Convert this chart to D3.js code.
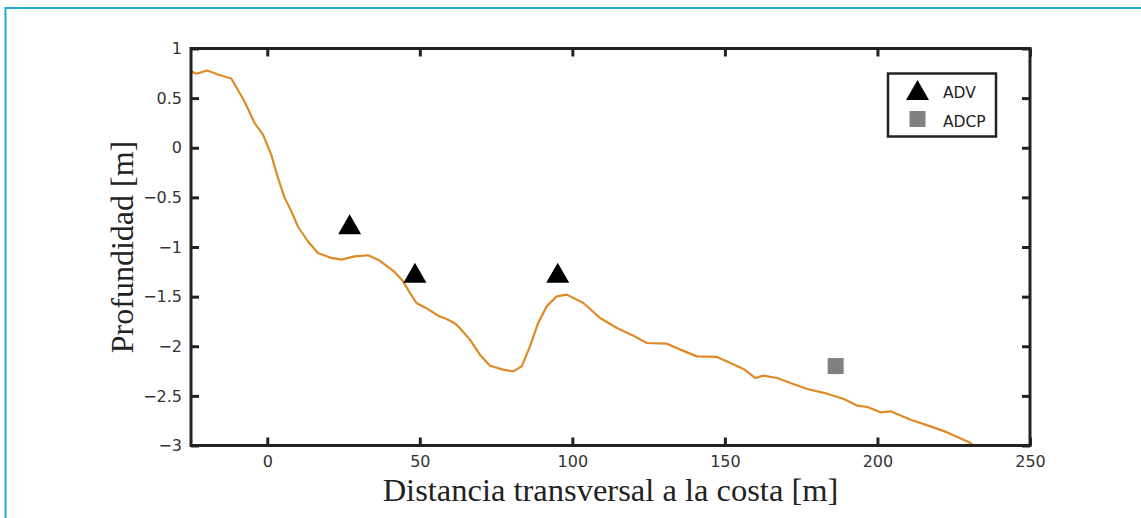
<!DOCTYPE html>
<html>
<head>
<meta charset="utf-8">
<script src="https://cdn.jsdelivr.net/npm/d3@7"></script>
<style>
  html, body { margin: 0; padding: 0; background: #fff; }
  svg { display: block; }
</style>
</head>
<body>
<svg id="chart" width="1141" height="518"></svg>
<script>
// Cross-shore bathymetric profile
const distance = [-25, -23.3, -19.7, -16.2, -11.8, -7.5, -4.2, -1.4, 1.3, 3.5, 5.7, 7.9, 10.0, 13.3, 16.6,
  21.0, 24.3, 28.7, 33.0, 36.5, 41.5, 44.5, 46.5, 48.9, 52.0, 56.3, 58.8, 61.5, 63.1, 66.4, 69.7, 73.0,
  77.3, 80.6, 83.4, 86.1, 88.8, 91.6, 94.9, 98.2, 103.6, 109.1, 114.6, 120.0, 124.4, 131.0, 135.4, 140.8,
  147.4, 151.8, 156.1, 160.0, 162.7, 167.1, 171.5, 177.0, 183.5, 189.0, 193.4, 196.7, 201.0, 204.3,
  210.9, 217.4, 222.9, 229.5, 231.6];
const depth = [0.771, 0.745, 0.778, 0.738, 0.698, 0.469, 0.251, 0.133, -0.069, -0.304, -0.505, -0.640,
  -0.791, -0.942, -1.06, -1.11, -1.127, -1.094, -1.083, -1.13, -1.245, -1.346, -1.45, -1.564, -1.614,
  -1.698, -1.725, -1.77, -1.816, -1.933, -2.085, -2.196, -2.236, -2.253, -2.203, -2.001, -1.765, -1.598,
  -1.497, -1.480, -1.564, -1.715, -1.816, -1.893, -1.967, -1.974, -2.034, -2.102, -2.108, -2.169, -2.229,
  -2.320, -2.296, -2.320, -2.370, -2.431, -2.478, -2.531, -2.599, -2.612, -2.666, -2.656, -2.740, -2.807,
  -2.868, -2.959, -3.0];

// Instrument positions
const advX = [27, 48.4, 95.2];
const advY = [-0.77, -1.26, -1.26];
const adcpX = [186.3];
const adcpY = [-2.2];

const xTicks = [0, 50, 100, 150, 200, 250];
const yTicks = [1, 0.5, 0, -0.5, -1, -1.5, -2, -2.5, -3];

const svg = d3.select("#chart");

// page frame
svg.append("line").attr("x1", 5.5).attr("x2", 1141).attr("y1", 8).attr("y2", 8)
  .attr("stroke", "#22a8d8").attr("stroke-width", 2);
svg.append("line").attr("x1", 5.5).attr("x2", 5.5).attr("y1", 7).attr("y2", 518)
  .attr("stroke", "#22a8d8").attr("stroke-width", 2);

const L = 191, T = 48.5, R = 1030, B = 445.5;
const x = d3.scaleLinear().domain([-25, 250]).range([L, R]);
const y = d3.scaleLinear().domain([-3, 1]).range([B, T]);

const fmt = v => (v < 0 ? "\u2212" : "") + Math.abs(v);
const axisColor = "#222";

// axes with inward ticks, mirrored on top and right
function styleAxis(g) {
  g.select(".domain").remove();
  g.selectAll(".tick line").attr("stroke", axisColor).attr("stroke-width", 3);
  g.selectAll(".tick text").attr("fill", "#333")
    .style("font-family", "'DejaVu Sans', sans-serif").style("font-size", "16px");
}
svg.append("g").attr("transform", `translate(0,${B})`)
  .call(d3.axisBottom(x).tickValues(xTicks).tickFormat(fmt).tickSizeInner(-8).tickPadding(10))
  .call(styleAxis);
svg.append("g").attr("transform", `translate(0,${T})`)
  .call(d3.axisTop(x).tickValues(xTicks).tickFormat("").tickSizeInner(-8))
  .call(styleAxis);
svg.append("g").attr("transform", `translate(${L},0)`)
  .call(d3.axisLeft(y).tickValues(yTicks).tickFormat(fmt).tickSizeInner(-8).tickPadding(9))
  .call(styleAxis);
svg.append("g").attr("transform", `translate(${R},0)`)
  .call(d3.axisRight(y).tickValues(yTicks).tickFormat("").tickSizeInner(-8))
  .call(styleAxis);

// profile line
const profile = distance.map((d, i) => [d, depth[i]]);
svg.append("path").datum(profile)
  .attr("fill", "none").attr("stroke", "#de8a26").attr("stroke-width", 2.2)
  .attr("stroke-linejoin", "round")
  .attr("d", d3.line().x(d => x(d[0])).y(d => y(d[1])));

// markers
const triangle = "M0,-10L11.5,10L-11.5,10Z";
svg.append("g").selectAll("path").data(advX.map((d, i) => [d, advY[i]])).join("path")
  .attr("d", triangle)
  .attr("transform", d => `translate(${x(d[0])},${y(d[1])})`)
  .attr("fill", "#000");
svg.append("g").selectAll("rect").data(adcpX.map((d, i) => [d, adcpY[i]])).join("rect")
  .attr("x", d => x(d[0]) - 8).attr("y", d => y(d[1]) - 8)
  .attr("width", 16).attr("height", 16).attr("fill", "#808080");

// plot box
svg.append("rect").attr("x", L).attr("y", T).attr("width", R - L).attr("height", B - T)
  .attr("fill", "none").attr("stroke", axisColor).attr("stroke-width", 3);

// legend
const lg = svg.append("g");
lg.append("rect").attr("x", 888).attr("y", 73.5).attr("width", 108).attr("height", 63)
  .attr("fill", "#fff").attr("stroke", axisColor).attr("stroke-width", 2.5);
lg.append("path").attr("d", triangle).attr("transform", "translate(917.5,90)").attr("fill", "#000");
lg.append("rect").attr("x", 909.5).attr("y", 111).attr("width", 16).attr("height", 16).attr("fill", "#808080");
lg.selectAll("text").data(["ADV", "ADCP"]).join("text")
  .attr("x", 943).attr("y", (d, i) => 98 + i * 28.5)
  .attr("fill", "#222")
  .style("font-family", "'DejaVu Sans', sans-serif").style("font-size", "15.5px")
  .text(d => d);

// axis titles
svg.append("text").attr("x", (L + R) / 2).attr("y", 501)
  .attr("text-anchor", "middle").attr("fill", "#222")
  .style("font-family", "'Liberation Serif', 'Times New Roman', serif").style("font-size", "32.5px")
  .text("Distancia transversal a la costa [m]");
svg.append("text").attr("transform", `translate(133,${(T + B) / 2}) rotate(-90)`)
  .attr("text-anchor", "middle").attr("fill", "#222")
  .style("font-family", "'Liberation Serif', 'Times New Roman', serif").style("font-size", "32px")
  .text("Profundidad [m]");
</script>
</body>
</html>
